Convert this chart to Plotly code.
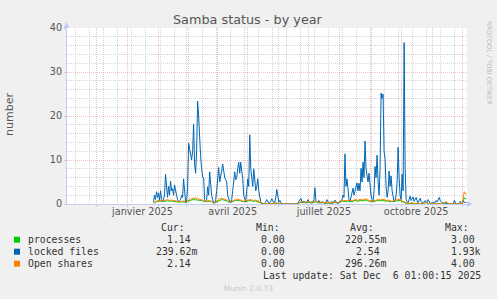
import pandas as pd
import plotly.graph_objects as go

# ---------------- data ----------------
series_names = ["processes", "locked files", "Open shares"]
series_colors = ["#00CC00", "#0066B3", "#FF8000"]

# daily values of "locked files", 2025-01-27 .. 2025-12-05
locked_start = "2025-01-27"
locked_files = [
    0.5, 2.0, 1.0, 2.8, 1.5, 2.5, 0.8, 3.0, 1.2, 0.5,
    1.0, 2.0, 6.8, 3.0, 1.5, 4.0, 2.0, 5.2, 3.0, 3.5,
    2.0, 4.3, 2.5, 2.0, 1.0, 0.5, 0.8, 1.0, 2.0, 1.5,
    5.7, 2.0, 0.5, 0.3, 4.0, 13.8, 12.5, 11.0, 10.0, 12.0,
    18.2, 9.0, 7.0, 12.0, 23.4, 20.0, 14.0, 10.8, 8.0, 6.1,
    6.0, 1.0, 0.5, 0.8, 3.9, 2.0, 7.3, 4.0, 2.0, 1.0,
    0.3, 0.2, 1.0, 3.0, 6.0, 8.3, 5.0, 6.0, 7.5, 9.1,
    7.0, 6.0, 5.5, 5.0, 2.0, 1.0, 0.5, 0.3, 1.0, 3.0,
    5.0, 7.3, 5.5, 6.0, 8.0, 9.5, 7.0, 9.5, 7.5, 5.8,
    2.0, 1.0, 0.5, 3.0, 5.7, 4.0, 15.7, 8.0, 5.9, 4.0,
    8.0, 5.5, 3.0, 4.0, 5.7, 3.0, 1.5, 0.5, 0.2, 0.0,
    0.0, 0.3, 0.5, 1.0, 0.4, 0.2, 0.3, 0.6, 1.2, 0.8,
    0.3, 0.5, 1.5, 3.3, 1.0, 0.4, 0.8, 0.2, 0.0, 0.0,
    0.0, 0.0, 0.0, 0.0, 0.1, 0.0, 0.0, 0.0, 0.0, 0.0,
    0.0, 0.0, 0.0, 0.0, 0.2, 0.5, 0.8, 1.3, 0.5, 0.3,
    0.7, 0.3, 0.2, 0.4, 1.0, 0.5, 0.3, 0.2, 0.6, 0.4,
    1.0, 3.7, 0.8, 0.3, 0.2, 0.8, 0.4, 0.2, 0.3, 0.5,
    0.2, 0.1, 0.4, 1.0, 0.5, 0.2, 0.1, 0.3, 0.6, 0.2,
    0.3, 0.9, 0.4, 0.2, 0.1, 0.4, 0.3, 0.6, 1.0, 2.0,
    1.5, 11.4, 4.0, 5.7, 2.0, 1.0, 0.5, 1.5, 2.5, 3.6,
    2.0, 3.0, 4.0, 4.8, 3.0, 4.7, 3.0, 8.1, 5.0, 9.5,
    6.0, 14.3, 8.0, 6.2, 5.0, 7.0, 4.0, 2.0, 1.0, 0.5,
    3.0, 8.5, 6.0, 11.1, 5.0, 2.0, 8.0, 25.2, 24.0, 25.0,
    12.0, 10.2, 4.0, 1.5, 3.0, 7.5, 4.0, 6.4, 3.0, 1.0,
    0.5, 0.8, 2.0, 5.0, 12.9, 6.0, 2.0, 1.0, 6.8, 3.0,
    36.7, 8.0, 1.0, 0.5, 0.3, 1.0, 1.8, 0.8, 1.2, 1.6,
    0.6, 1.0, 1.5, 0.7, 0.3, 0.8, 1.3, 0.5, 0.2, 0.3,
    0.5, 0.8, 0.4, 0.3, 1.0, 0.3, 0.1, 0.2, 0.3, 0.2,
    0.5, 0.3, 0.8, 0.5, 1.2, 1.5, 0.8, 0.5, 0.3, 0.2,
    0.4, 0.1, 0.1, 0.0, 0.1, 0.0, 0.1, 0.0, 0.1, 0.0,
    0.8, 0.3, 0.1, 0.0, 0.1, 0.0, 0.6, 0.2, 0.1, 0.7,
    0.3, 0.5, 0.24,
]

# two-day values of "Open shares" and "processes", 2025-01-27 .. 2025-12-05
shares_start = "2025-01-27"
open_shares = [
    0.3, 0.6, 0.8, 0.7, 0.9, 0.7, 0.8, 1.0, 0.8, 0.9,
    0.8, 0.7, 0.6, 0.5, 0.6, 0.7, 0.5, 0.8, 1.0, 1.2,
    1.3, 1.4, 1.2, 1.1, 1.0, 0.8, 0.6, 0.7, 0.8, 0.6,
    0.3, 0.5, 0.9, 1.1, 1.3, 1.2, 1.0, 0.8, 0.4, 0.6,
    0.9, 1.0, 1.1, 1.0, 0.8, 0.6, 0.7, 0.9, 1.0, 0.9,
    0.8, 0.9, 0.7, 0.4, 0.2, 0.1, 0.0, 0.0, 0.1, 0.0,
    0.1, 0.3, 0.1, 0.0, 0.0, 0.0, 0.0, 0.0, 0.0, 0.0,
    0.0, 0.0, 0.0, 0.4, 0.6, 0.5, 0.4, 0.6, 0.5, 0.3,
    0.6, 0.7, 0.4, 0.3, 0.5, 0.4, 0.2, 0.3, 0.4, 0.2,
    0.5, 0.4, 0.3, 0.6, 0.9, 0.8, 0.7, 0.9, 0.8, 0.7,
    0.9, 1.0, 0.8, 1.1, 0.9, 1.0, 1.2, 0.9, 0.8, 0.6,
    0.7, 0.9, 1.0, 0.9, 1.1, 1.0, 0.8, 0.9, 0.7, 0.6,
    0.8, 0.9, 1.0, 1.1, 0.7, 0.5, 0.2, 0.1, 0.2, 0.3,
    0.1, 0.2, 0.1, 0.0, 0.1, 0.3, 0.4, 0.1, 0.0, 0.1,
    0.0, 0.1, 0.2, 0.0, 0.0, 0.3, 0.5, 0.1, 0.0, 0.0,
    0.1, 0.0, 0.0, 0.2, 0.1, 2.8, 2.14,
]
processes = [
    0.2, 0.5, 0.6, 0.6, 0.7, 0.6, 0.6, 0.8, 0.6, 0.7,
    0.6, 0.5, 0.5, 0.4, 0.5, 0.5, 0.4, 0.6, 0.8, 0.9,
    1.0, 1.0, 0.9, 0.8, 0.8, 0.6, 0.5, 0.5, 0.6, 0.5,
    0.2, 0.4, 0.7, 0.8, 1.0, 0.9, 0.8, 0.6, 0.3, 0.5,
    0.7, 0.8, 0.8, 0.8, 0.6, 0.5, 0.5, 0.7, 0.8, 0.7,
    0.6, 0.7, 0.5, 0.3, 0.1, 0.1, 0.0, 0.0, 0.1, 0.0,
    0.1, 0.2, 0.1, 0.0, 0.0, 0.0, 0.0, 0.0, 0.0, 0.0,
    0.0, 0.0, 0.0, 0.3, 0.4, 0.4, 0.3, 0.4, 0.4, 0.2,
    0.4, 0.5, 0.3, 0.2, 0.4, 0.3, 0.1, 0.2, 0.3, 0.1,
    0.4, 0.3, 0.2, 0.4, 0.7, 0.6, 0.5, 0.7, 0.6, 0.5,
    0.7, 0.8, 0.6, 0.8, 0.7, 0.8, 0.9, 0.7, 0.6, 0.5,
    0.5, 0.7, 0.8, 0.7, 0.8, 0.8, 0.6, 0.7, 0.5, 0.5,
    0.6, 0.7, 0.8, 0.8, 0.5, 0.4, 0.1, 0.1, 0.1, 0.2,
    0.1, 0.1, 0.1, 0.0, 0.1, 0.2, 0.3, 0.1, 0.0, 0.1,
    0.0, 0.1, 0.1, 0.0, 0.0, 0.2, 0.4, 0.1, 0.0, 0.0,
    0.1, 0.0, 0.0, 0.1, 0.1, 1.4, 1.14,
]

x_tick_dates = ["2025-01-16", "2025-04-16", "2025-07-16", "2025-10-16"]
x_tick_labels = ["janvier 2025", "avril 2025", "juillet 2025", "octobre 2025"]
y_ticks = [0, 10, 20, 30, 40]
y_minor = [2, 4, 6, 8, 12, 14, 16, 18, 22, 24, 26, 28, 32, 34, 36, 38]

legend_cur = ["1.14", "239.62m", "2.14"]
legend_min = ["0.00", "0.00", "0.00"]
legend_avg = ["220.55m", "2.54", "296.26m"]
legend_max = ["3.00", "1.93k", "4.00"]

x_range = ["2024-11-01 17:00", "2025-12-05 17:00"]

# ---------------- figure ----------------
locked_x = pd.date_range(locked_start, periods=len(locked_files), freq="D")
shares_x = pd.date_range(shares_start, periods=len(open_shares), freq="2D")
proc_x = pd.date_range(shares_start, periods=len(processes), freq="2D")

W, H = 497, 299
L, R, T, B = 67, 30, 28, 95
PW, PH = W - L - R, H - T - B


def px(xp):
    return (xp - L) / PW


def py(yp):
    return (H - B - yp) / PH


fig = go.Figure()
fig.add_trace(go.Scatter(x=proc_x, y=processes, mode="lines",
                         line=dict(color=series_colors[0], width=1),
                         showlegend=False, hoverinfo="skip"))
fig.add_trace(go.Scatter(x=locked_x, y=locked_files, mode="lines",
                         line=dict(color=series_colors[1], width=1),
                         showlegend=False, hoverinfo="skip"))
fig.add_trace(go.Scatter(x=shares_x, y=open_shares, mode="lines",
                         line=dict(color=series_colors[2], width=1),
                         showlegend=False, hoverinfo="skip"))
# carrier for the label axis
fig.add_trace(go.Scatter(x=[], y=[], xaxis="x2", showlegend=False, hoverinfo="skip"))

FONT = "DejaVu Sans"
MONO = "DejaVu Sans Mono"
RED = "rgba(225,110,110,0.45)"
GRAY = "#D4D4D4"
AXC = "#C6CBF0"
DASH = "1px,1px"

fig.update_layout(
    width=W, height=H,
    margin=dict(l=L, r=R, t=T, b=B, pad=0),
    paper_bgcolor="#F0F0F0",
    plot_bgcolor="#FFFFFF",
    showlegend=False,
    font=dict(family=FONT, size=9.7, color="#555555"),
    xaxis=dict(
        type="date", range=x_range,
        tick0="2025-01-01", dtick="M1",
        showgrid=True, gridcolor=RED, griddash=DASH, gridwidth=1,
        showticklabels=False, ticks="outside", ticklen=2, tickcolor=AXC,
        showline=True, linecolor=AXC, linewidth=1,
        zeroline=False,
        minor=dict(dtick=14 * 86400000, tick0="2025-01-05 12:00",
                   showgrid=True, gridcolor=GRAY, griddash=DASH, gridwidth=1),
    ),
    xaxis2=dict(
        type="date", range=x_range, overlaying="x", anchor="y", side="bottom",
        tickmode="array", tickvals=x_tick_dates, ticktext=x_tick_labels,
        showgrid=False, showline=False, zeroline=False, ticks="",
        tickfont=dict(family=FONT, size=9.7, color="#555555"),
    ),
    yaxis=dict(
        range=[0, 40], tickmode="array", tickvals=y_ticks,
        showgrid=True, gridcolor=RED, griddash=DASH, gridwidth=1,
        ticks="outside", ticklen=2, tickcolor=AXC,
        showline=True, linecolor=AXC, linewidth=1, zeroline=False,
        tickfont=dict(family=FONT, size=9.7, color="#555555"),
        minor=dict(tickmode="array", tickvals=y_minor, showgrid=True,
                   gridcolor=GRAY, griddash=DASH, gridwidth=1),
    ),
)

shapes = []
# axis arrows
shapes.append(dict(type="path", xref="paper", yref="paper",
                   path=f"M {px(63.5)} {py(28)} L {px(69.5)} {py(28)} L {px(66.5)} {py(22)} Z",
                   fillcolor=AXC, line=dict(width=0)))
shapes.append(dict(type="path", xref="paper", yref="paper",
                   path=f"M {px(467)} {py(201)} L {px(467)} {py(207)} L {px(473)} {py(204)} Z",
                   fillcolor=AXC, line=dict(width=0)))
# legend swatches
row_y = [239.7, 251.7, 263.7]
for c, ry in zip(series_colors, row_y):
    shapes.append(dict(type="rect", xref="paper", yref="paper",
                       x0=px(14), x1=px(20), y0=py(ry - 3), y1=py(ry + 3),
                       fillcolor=c, line=dict(width=0)))
fig.update_layout(shapes=shapes)

ann = []


def text(s, x, y, anchor="left", size=9.8, color="#333333", family=MONO, angle=0):
    ann.append(dict(text=s, x=px(x), y=py(y), xref="paper", yref="paper",
                    xanchor=anchor, yanchor="middle", showarrow=False,
                    textangle=angle,
                    font=dict(family=family, size=size, color=color)))


text("Samba status - by year", 248, 19, anchor="center", size=12.8,
     color="#555555", family=FONT)
text("number", 10, 115, anchor="center", size=11, color="#555555", family=FONT, angle=-90)
text("RRDTOOL / TOBI OETIKER", 489, 63, anchor="center", size=6.5,
     color="#BBBBBB", family=FONT, angle=90)

UNIT_W = 5.9
for hdr, xr in zip(["Cur:", "Min:", "Avg:", "Max:"], [187, 282, 376, 471]):
    text(hdr, xr, 228, anchor="right")

col_right = [192.7, 287.3, 381.7, 476.7]
cols = [legend_cur, legend_min, legend_avg, legend_max]
for i, name in enumerate(series_names):
    text(name, 26.3, row_y[i])
    for ci, col in enumerate(cols):
        v = col[i]
        xr = col_right[ci] + (UNIT_W if v[-1].isalpha() else 0)
        text(v, xr, row_y[i], anchor="right")

text("Last update: Sat Dec  6 01:00:15 2025".replace("  ", "\u00a0 "), 482.5, 275.3, anchor="right")
text("Munin 2.0.73", 248, 288, anchor="center", size=7.5, color="#C8C8C8", family=FONT)

fig.update_layout(annotations=ann)
fig.write_html("out.html")
